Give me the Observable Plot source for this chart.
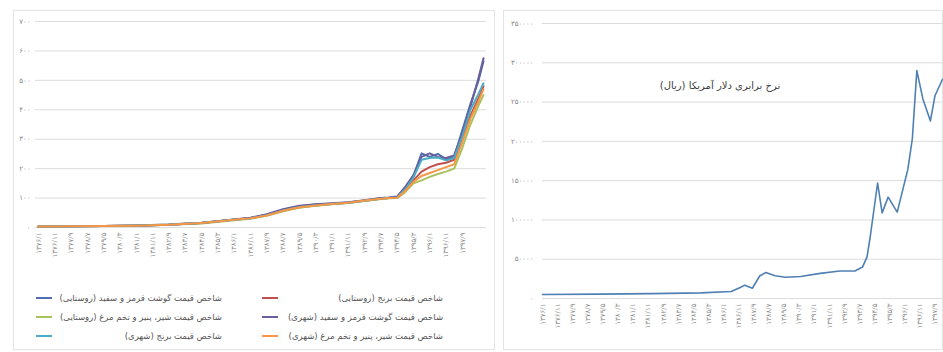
<!DOCTYPE html>
<html><head><meta charset="utf-8">
<script src="https://cdn.jsdelivr.net/npm/d3@7"></script>
<script src="https://cdn.jsdelivr.net/npm/@observablehq/plot@0.6"></script>
<style>
body{margin:0;background:#fff;font-family:"DejaVu Sans",sans-serif;width:943px;height:352px;overflow:hidden;position:relative}
.panel{position:absolute;border:1px solid #e3e3e3;box-sizing:border-box}
.abs{position:absolute}
.lg{position:absolute;font-size:8.5px;color:#555;direction:rtl;white-space:nowrap;line-height:12px}
.sw{position:absolute;height:2px}
</style></head><body>
<div class="panel" style="left:13px;top:10px;width:482px;height:340px"></div>
<div class="panel" style="left:503px;top:10px;width:440px;height:340px"></div>
<div id="left" class="abs" style="left:12px;top:10px"></div>
<div id="right" class="abs" style="left:503px;top:10px"></div>
<div id="legend"></div>
<div class="abs" style="left:640px;top:80px;width:160px;text-align:center;font-size:10px;color:#404040;direction:rtl">نرخ برابری دلار آمریکا (ریال)</div>
<script>
// ---------- Left chart data (month index from start) ----------
const seriesNames = [
  "شاخص قیمت گوشت قرمز و سفید (روستایی)",
  "شاخص قیمت برنج (روستایی)",
  "شاخص قیمت شیر، پنیر و تخم مرغ (روستایی)",
  "شاخص قیمت گوشت قرمز و سفید (شهری)",
  "شاخص قیمت برنج (شهری)",
  "شاخص قیمت شیر، پنیر و تخم مرغ (شهری)"
];
const seriesColors = ["#4F6FB0", "#C0504D", "#A8C25E", "#6B5E9A", "#4BACC6", "#F79646"];
const months = [0, 20, 40, 60, 80, 100, 120, 130, 140, 150, 160, 170, 180, 190, 200, 210, 215, 220, 225, 230, 235, 240, 245, 250, 255, 260, 265, 270, 273];
const meatRural   = [3, 4, 5, 6, 9, 15, 26, 31, 43, 60, 72, 78, 81, 85, 92, 99, 101, 104, 135, 175, 252, 240, 250, 232, 240, 330, 420, 500, 565];
const riceRural   = [3, 4, 5, 7, 10, 16, 27, 32, 42, 57, 69, 75, 80, 84, 91, 98, 100, 101, 128, 160, 190, 205, 215, 220, 230, 300, 380, 440, 480];
const dairyRural  = [3, 4, 5, 6, 9, 14, 25, 30, 40, 55, 67, 74, 79, 83, 90, 97, 99, 100, 120, 150, 160, 172, 182, 190, 200, 270, 350, 415, 450];
const meatUrban   = [3, 4, 5, 6, 9, 15, 27, 33, 45, 62, 74, 79, 82, 86, 93, 100, 102, 105, 138, 178, 240, 252, 240, 236, 245, 320, 410, 510, 575];
const riceUrban   = [3, 4, 5, 7, 10, 16, 26, 31, 42, 58, 70, 76, 80, 84, 91, 98, 100, 102, 130, 170, 230, 236, 238, 228, 236, 310, 400, 455, 490];
const dairyUrban  = [3, 4, 5, 6, 9, 15, 26, 31, 41, 57, 69, 75, 80, 84, 92, 98, 100, 101, 125, 155, 175, 185, 195, 205, 215, 290, 370, 430, 470];
const leftSeries = [meatRural, riceRural, dairyRural, meatUrban, riceUrban, dairyUrban];

const leftYTicks = [0, 100, 200, 300, 400, 500, 600, 700];
const leftYLabels = ["۰", "۱۰۰", "۲۰۰", "۳۰۰", "۴۰۰", "۵۰۰", "۶۰۰", "۷۰۰"];

const xTickMonths = [0,10,20,30,40,50,60,70,80,90,100,110,120,130,140,150,160,170,180,190,200,210,220,230,240,250,260];
const xTickLabels = ["۱۳۷۶/۱","۱۳۷۶/۱۱","۱۳۷۷/۹","۱۳۷۸/۷","۱۳۷۹/۵","۱۳۸۰/۳","۱۳۸۱/۱","۱۳۸۱/۱۱","۱۳۸۲/۹","۱۳۸۳/۷","۱۳۸۴/۵","۱۳۸۵/۳","۱۳۸۶/۱","۱۳۸۶/۱۱","۱۳۸۷/۹","۱۳۸۸/۷","۱۳۸۹/۵","۱۳۹۰/۳","۱۳۹۱/۱","۱۳۹۱/۱۱","۱۳۹۲/۹","۱۳۹۳/۷","۱۳۹۴/۵","۱۳۹۵/۳","۱۳۹۶/۱","۱۳۹۶/۱۱","۱۳۹۷/۹"];

// ---------- Right chart data ----------
const usdMonths = [0, 38, 72, 105, 125, 131, 134, 139, 144, 148, 154, 161, 171, 184, 197, 207, 212, 215, 217, 222, 225, 229, 235, 242, 245, 248, 252, 257, 260, 265];
const usdRate   = [5000, 5600, 6200, 7200, 9000, 14000, 17000, 13000, 29000, 33000, 29000, 27000, 28000, 32000, 35000, 35000, 40000, 53000, 77000, 147000, 109000, 129000, 110000, 164000, 203000, 290000, 254000, 226000, 258000, 279000];
const rightYTicks = [0, 50000, 100000, 150000, 200000, 250000, 300000, 350000];
const rightYLabels = ["۰", "۵۰۰۰۰", "۱۰۰۰۰۰", "۱۵۰۰۰۰", "۲۰۰۰۰۰", "۲۵۰۰۰۰", "۳۰۰۰۰۰", "۳۵۰۰۰۰"];

// ---------- build ----------
const xLab = new Map(xTickMonths.map((m, i) => [m, xTickLabels[i]]));
const lyLab = new Map(leftYTicks.map((v, i) => [v, leftYLabels[i]]));
const ryLab = new Map(rightYTicks.map((v, i) => [v, rightYLabels[i]]));

const rows = [];
leftSeries.forEach((arr, s) => arr.forEach((v, i) => rows.push({m: months[i], v, s: seriesNames[s]})));

const common = {fontFamily: "DejaVu Sans", fontSize: "7px", color: "#8a8a8a", background: "transparent"};

const left = Plot.plot({
  width: 478, height: 267,
  marginTop: 11, marginBottom: 50, marginLeft: 23, marginRight: 4,
  insetLeft: 3, insetRight: 3,
  style: common,
  x: {domain: [0, 273], label: null},
  y: {domain: [0, 700], label: null},
  color: {domain: seriesNames, range: seriesColors},
  marks: [
    Plot.gridY(leftYTicks, {stroke: "#dcdcdc", strokeOpacity: 1}),
    Plot.axisY(leftYTicks, {tickSize: 0, tickPadding: 5, tickFormat: d => lyLab.get(d), label: null}),
    Plot.axisX(xTickMonths, {tickSize: 0, tickPadding: 5, tickRotate: -90, tickFormat: d => xLab.get(d), label: null}),
    Plot.line(rows, {x: "m", y: "v", z: "s", stroke: "s", strokeWidth: 2, curve: "linear"})
  ]
});
document.getElementById("left").append(left);

const usd = usdMonths.map((m, i) => ({m, v: usdRate[i]}));
const right = Plot.plot({
  width: 440, height: 336,
  marginTop: 13, marginBottom: 48, marginLeft: 39, marginRight: 1,
  style: common,
  x: {domain: [0, 265], label: null},
  y: {domain: [0, 350000], label: null},
  marks: [
    Plot.gridY(rightYTicks, {stroke: "#dcdcdc", strokeOpacity: 1}),
    Plot.axisY(rightYTicks, {tickSize: 0, tickPadding: 9, tickFormat: d => ryLab.get(d), label: null}),
    Plot.axisX(xTickMonths, {tickSize: 0, tickPadding: 5, tickRotate: -90, tickFormat: d => xLab.get(d), label: null}),
    Plot.line(usd, {x: "m", y: "v", stroke: "#4F7FB3", strokeWidth: 1.6})
  ]
});
document.getElementById("right").append(right);

// ---------- legend ----------
const legendSlots = [ // [seriesIndex, column, row]
  [0, 0, 0], [1, 1, 0], [2, 0, 1], [3, 1, 1], [4, 0, 2], [5, 1, 2]
];
const colSw = [36, 262], colTextRight = [222, 443], rowY = [298, 317, 336];
const lg = document.getElementById("legend");
for (const [s, c, r] of legendSlots) {
  const sw = document.createElement("div");
  sw.className = "sw";
  sw.style.cssText = `left:${colSw[c]}px;top:${rowY[r] - 1}px;width:16px;background:${seriesColors[s]}`;
  lg.append(sw);
  const t = document.createElement("div");
  t.className = "lg";
  t.style.cssText = `right:${943 - colTextRight[c]}px;top:${rowY[r] - 6}px`;
  t.textContent = seriesNames[s];
  lg.append(t);
}
</script>
</body></html>
